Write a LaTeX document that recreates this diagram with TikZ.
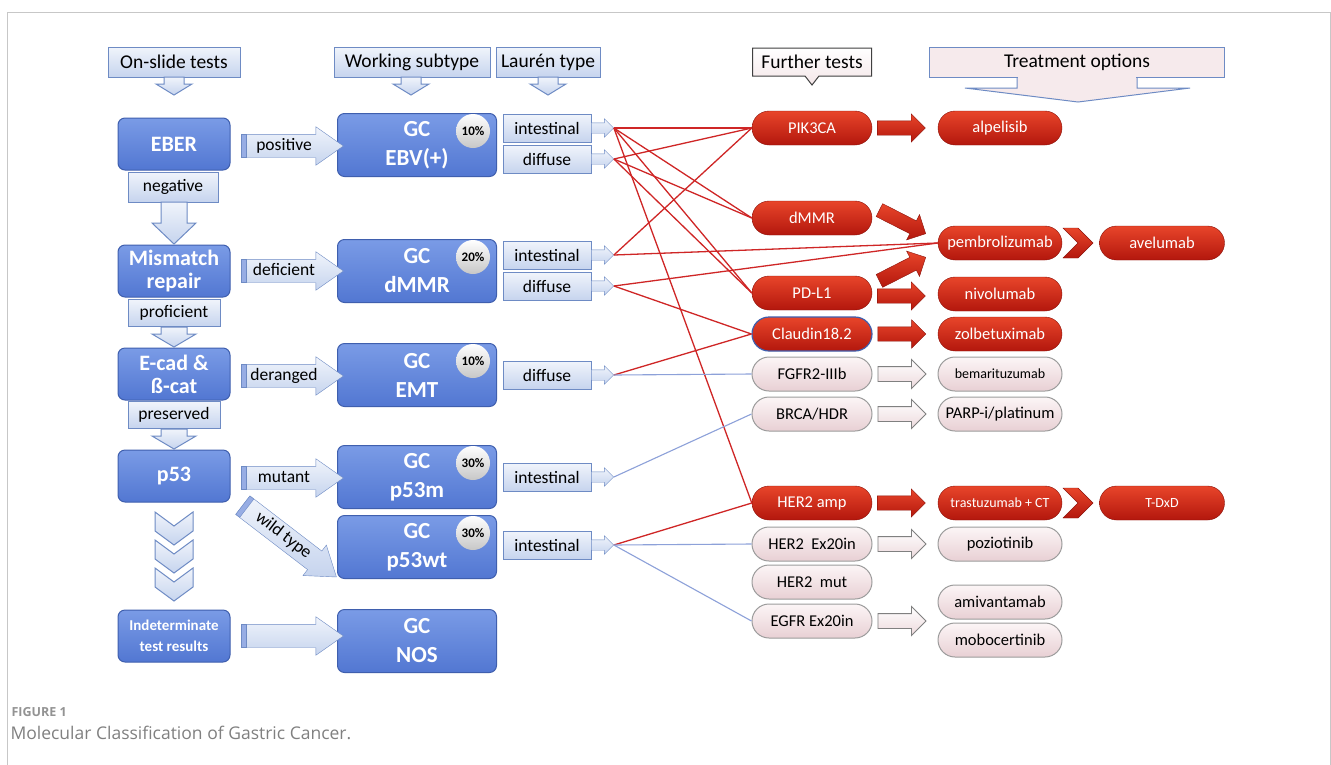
\documentclass[tikz,border=0pt]{standalone}
\usepackage{fontspec}
\setmainfont{Carlito}
\newfontfamily\capfont{Open Sans}
\usetikzlibrary{shapes.arrows,shapes.misc,shapes.symbols,shapes.callouts}

\definecolor{boxtop}{HTML}{7A9BE6}
\definecolor{boxbot}{HTML}{5277D2}
\definecolor{boxedge}{HTML}{3F5FAE}
\definecolor{lbtop}{HTML}{F0F4FB}
\definecolor{lbbot}{HTML}{C6D4EE}
\definecolor{lbedge}{HTML}{6E8BC4}
\definecolor{redtop}{HTML}{E8452A}
\definecolor{redbot}{HTML}{B3170D}
\definecolor{rededge}{HTML}{8C120A}
\definecolor{pinktop}{HTML}{FCF5F6}
\definecolor{pinkbot}{HTML}{E8D0D4}
\definecolor{pinkedge}{HTML}{9C9C9C}
\definecolor{redline}{HTML}{CF2626}
\definecolor{blueline}{HTML}{8DA1D9}
\definecolor{capgray}{HTML}{808080}

% down block arrow: (x,ytop,ybottom)(half shaft:half head:head length)
\def\dnblock(#1,#2,#3)(#4:#5:#6){\draw[lbshape] (#1-#4,#2) -- (#1+#4,#2) -- (#1+#4,#3-#6) -- (#1+#5,#3-#6) -- (#1,#3) -- (#1-#5,#3-#6) -- (#1-#4,#3-#6) -- cycle;}
% down chevron: (x,ytop)
\def\dnchev(#1,#2){\draw[lbshape] (#1-19,#2) -- (#1,#2+14) -- (#1+19,#2) -- (#1+19,#2+19) -- (#1,#2+33) -- (#1-19,#2+19) -- cycle;}

\tikzset{
  lbshape/.style={draw=lbedge, line width=1, top color=lbtop, bottom color=lbbot},
  testbox/.style={draw=boxedge, line width=1, rounded corners=7, top color=boxtop, bottom color=boxbot,
    text=white, align=center, inner sep=0pt, minimum width=112, minimum height=52,
    font=\bfseries\fontsize{22}{23}\selectfont},
  gcbox/.style={testbox, minimum width=159, minimum height=63, font=\bfseries\fontsize{23}{29}\selectfont},
  pct/.style={circle, inner sep=0pt, minimum size=34, top color=white, bottom color=black!22,
    font=\bfseries\fontsize{13}{13}\selectfont},
  hdr/.style={lbshape, inner sep=0pt, minimum height=30, font=\fontsize{19.5}{19.5}\selectfont},
  lbl/.style={lbshape, line width=0.8, inner sep=0pt, font=\fontsize{17.5}{17.5}\selectfont},
  lbarrow/.style={single arrow, draw=lbedge, top color=lbtop, bottom color=lbbot},
  sidearrow/.style={lbarrow, inner xsep=2, inner ysep=3.5, text height=12, text depth=4,
    single arrow head extend=7.5, single arrow tip angle=70, minimum height=102,
    font=\fontsize{17.5}{17.5}\selectfont},
  stripe/.style={rectangle, draw=lbedge, fill=boxbot!60, inner sep=0pt, minimum width=5, minimum height=23},
  tiparrow/.style={lbarrow, inner sep=5, single arrow head extend=4, minimum height=22},
  redpill/.style={rounded rectangle, draw=rededge, top color=redtop, bottom color=redbot, text=white,
    inner sep=0pt, minimum width=120, minimum height=34, font=\fontsize{16.5}{16.5}\selectfont},
  pinkpill/.style={rounded rectangle, draw=pinkedge, line width=1, top color=pinktop, bottom color=pinkbot,
    text=black, inner sep=0pt, minimum width=120, minimum height=34, font=\fontsize{16.5}{16.5}\selectfont},
  redarrow/.style={single arrow, draw=rededge, top color=redtop, bottom color=redbot, inner sep=7,
    single arrow head extend=7, minimum height=48},
  pinkarrow/.style={single arrow, draw=black!50, line width=0.9, top color=white, bottom color=pinkbot!80,
    inner sep=7, single arrow head extend=7, minimum height=48},
  redchev/.style={signal, signal to=east, signal from=west, draw=rededge, top color=redtop,
    bottom color=redbot, inner sep=0pt, minimum width=23, minimum height=30},
  redl/.style={draw=redline, line width=1.3},
  bluel/.style={draw=blueline, line width=1.1}
}

\begin{document}
\begin{tikzpicture}[x=1pt,y=-1pt]
%%%%% START %%%%%
\useasboundingbox (0,0) rectangle (1331,764);
\fill[white] (0,0) rectangle (1331,764);
\draw[black!22, line width=1] (7,780) -- (7,12) -- (1330,12) -- (1330,780);

% headers
\node[hdr, minimum width=132] (h-test) at (174,62) {On-slide tests};
\dnblock(174,77,95)(10:18:11)
\node[hdr, minimum width=156] (h-sub) at (412,62) {Working subtype};
\dnblock(411,77,95)(10:18:11)
\node[hdr, minimum width=104] (h-lau) at (548,62) {Laur\'en type};
\dnblock(548,77,95)(10:18:11)
\node[rectangle callout, draw=black!75, line width=1, top color=white, bottom color=pinktop!60!pinkbot,
  inner sep=0pt, minimum width=119, minimum height=28, callout absolute pointer={(812,85)},
  callout pointer width=14, font=\fontsize{19.5}{19.5}\selectfont] (h-fur) at (812,62) {Further tests};
\fill[pinktop!70!pinkbot] (1017,76) -- (1017,88) -- (965,88) -- (1078,102) -- (1190,88) -- (1137,88) -- (1137,76) -- cycle;
\draw[lbedge, line width=1] (1017,77) -- (1017,88) -- (965,88) -- (1078,102) -- (1190,88) -- (1137,88) -- (1137,77);
\node[draw=lbedge, line width=1, fill=pinktop!70!pinkbot, inner sep=0pt, minimum width=295, minimum height=30,
  font=\fontsize{19.5}{19.5}\selectfont] (h-trt) at (1077,62) {Treatment options};
\fill[pinktop!70!pinkbot] (1018,76) rectangle (1136,79);

% on-slide tests
\node[testbox] (eber) at (174,144) {EBER};
\node[lbl, minimum width=90, minimum height=30] (neg) at (173,187) {negative};
\dnblock(174,202,244)(13:22:21)
\node[testbox] (mmr) at (174,271) {Mismatch\\repair};
\node[lbl, minimum width=92, minimum height=27] (prof) at (174,313) {proficient};
\dnblock(174,327,347)(13:22:13)
\node[testbox] (ecad) at (174,374) {E-cad \&\\\ss-cat};
\node[lbl, minimum width=92, minimum height=27] (pres) at (174,415) {preserved};
\dnblock(174,429,449)(13:22:13)
\node[testbox] (p53) at (174,476) {p53};
\dnchev(174,512)
\dnchev(174,540)
\dnchev(174,568)
\node[testbox, font=\bfseries\fontsize{15}{21}\selectfont] (ind) at (174,636) {Indeterminate\\test results};

% working subtypes
\node[gcbox] (ebv) at (417,145) {GC\\EBV(+)};
\node[pct] at (473,131) {10\%};
\node[gcbox] (dmmr) at (417,271) {GC\\dMMR};
\node[pct] at (473,257) {20\%};
\node[gcbox] (emt) at (417,375) {GC\\EMT};
\node[pct] at (473,361) {10\%};
\node[gcbox] (p53m) at (417,477) {GC\\p53m};
\node[pct] at (473,463) {30\%};
\node[gcbox] (p53wt) at (417,547) {GC\\p53wt};
\node[pct] at (473,533) {30\%};
\node[gcbox] (nos) at (417,641) {GC\\NOS};

% test result arrows
\node[sidearrow] (a-pos) at (284,146) {positive};
\node[sidearrow] (a-def) at (284,271) {deficient};
\node[sidearrow] (a-der) at (284,376) {deranged};
\node[sidearrow] (a-mut) at (284,478) {mutant};
\node[sidearrow, rotate=-37.5, minimum height=118] (a-wt) at (283,536) {wild type};
\node[sidearrow] (a-ind) at (284,636) {};
\foreach \a in {a-pos,a-def,a-der,a-mut,a-wt,a-ind}
  \path (\a.tail) -- (\a.tip) node[pos=0, sloped, anchor=west, stripe] {};

% lauren types
\node[lbl, minimum width=88, minimum height=28] (ebv-i) at (547,128) {intestinal};
\node[lbl, minimum width=88, minimum height=28] (ebv-d) at (547,159) {diffuse};
\node[lbl, minimum width=88, minimum height=28] (dmmr-i) at (547,255) {intestinal};
\node[lbl, minimum width=88, minimum height=28] (dmmr-d) at (547,286) {diffuse};
\node[lbl, minimum width=88, minimum height=28] (emt-d) at (547,375) {diffuse};
\node[lbl, minimum width=88, minimum height=28] (p53m-i) at (547,477) {intestinal};
\node[lbl, minimum width=88, minimum height=28] (p53wt-i) at (547,545) {intestinal};
\foreach \l in {ebv-i,ebv-d,dmmr-i,dmmr-d,emt-d,p53m-i,p53wt-i}
  \node[tiparrow, anchor=tail] (\l-t) at (\l.east) {};

% further tests
\node[redpill] (pik) at (812,128) {PIK3CA};
\node[redpill] (mmrt) at (812,218) {dMMR};
\node[redpill] (pdl) at (812,293) {PD-L1};
\node[redpill, draw=boxedge, line width=1.2] (cld) at (812,334) {Claudin18.2};
\node[pinkpill] (fgfr) at (812,374) {FGFR2-IIIb};
\node[pinkpill] (brca) at (812,414) {BRCA/HDR};
\node[redpill] (her) at (812,503) {HER2 amp};
\node[pinkpill] (hex) at (812,544) {HER2\ \ Ex20in};
\node[pinkpill] (hmut) at (812,582) {HER2\ \ mut};
\node[pinkpill] (egfr) at (812,621) {EGFR Ex20in};

% treatment options
\node[redpill, minimum width=124] (alp) at (1000,128) {alpelisib};
\node[redpill, minimum width=124] (pem) at (1000,243) {pembrolizumab};
\node[redpill, minimum width=124] (niv) at (1000,294) {nivolumab};
\node[redpill, minimum width=124] (zol) at (1000,334) {zolbetuximab};
\node[pinkpill, minimum width=124, font=\fontsize{14}{14}\selectfont] (bem) at (1000,374) {bemarituzumab};
\node[pinkpill, minimum width=124] (parp) at (1000,414) {PARP-i/platinum};
\node[redpill, minimum width=124, font=\fontsize{14}{14}\selectfont] (tra) at (1000,503) {trastuzumab + CT};
\node[pinkpill, minimum width=124] (poz) at (1000,544) {poziotinib};
\node[pinkpill, minimum width=124] (ami) at (1000,602) {amivantamab};
\node[pinkpill, minimum width=124] (mob) at (1000,640) {mobocertinib};
\node[redpill, minimum width=125] (ave) at (1162,243) {avelumab};
\node[redpill, minimum width=125, font=\fontsize{14}{14}\selectfont] (tdx) at (1162,503) {T-DxD};

% arrows to treatment
\node[redarrow, anchor=tail] at ([xshift=5]pik.east) {};
\node[redarrow, rotate=-27, anchor=tail, minimum height=52] at ([xshift=7,yshift=8]mmrt.east) {};
\node[redarrow, rotate=27, anchor=tail, minimum height=52] at ([xshift=7,yshift=12]pdl.east) {};
\node[redarrow, anchor=tail] at ([xshift=5,yshift=-3]pdl.east) {};
\node[redarrow, anchor=tail] at ([xshift=5]cld.east) {};
\node[pinkarrow, anchor=tail] at ([xshift=5]fgfr.east) {};
\node[pinkarrow, anchor=tail] at ([xshift=5]brca.east) {};
\node[redarrow, anchor=tail] at ([xshift=5]her.east) {};
\node[pinkarrow, anchor=tail] at ([xshift=5]hex.east) {};
\node[pinkarrow, anchor=tail] at ([xshift=5]egfr.east) {};
\node[redchev] at (1078,243) {};
\node[redchev] at (1078,503) {};

% laurens to further tests
\draw[redl] (ebv-i-t.tip) -- (pik.west);
\draw[redl] (ebv-i-t.tip) -- (mmrt.west);
\draw[redl] (ebv-i-t.tip) -- (pdl.west);
\draw[redl] (ebv-i-t.tip) -- (her.west);
\draw[redl] (ebv-d-t.tip) -- (pik.west);
\draw[redl] (ebv-d-t.tip) -- (mmrt.west);
\draw[redl] (ebv-d-t.tip) -- (pdl.west);
\draw[redl] (dmmr-i-t.tip) -- (pik.west);
\draw[redl] (dmmr-i-t.tip) -- (pem.west);
\draw[redl] (dmmr-d-t.tip) -- (pem.west);
\draw[redl] (dmmr-d-t.tip) -- (cld.west);
\draw[redl] (emt-d-t.tip) -- (cld.west);
\draw[bluel] (emt-d-t.tip) -- (fgfr.west);
\draw[bluel] (p53m-i-t.tip) -- (brca.west);
\draw[redl] (p53wt-i-t.tip) -- (her.west);
\draw[bluel] (p53wt-i-t.tip) -- (hex.west);
\draw[bluel] (p53wt-i-t.tip) -- (egfr.west);

% caption
\node[anchor=base west, text=capgray!85, font=\capfont\bfseries\fontsize{12.5}{13}\selectfont] (fig) at (8,716) {FIGURE 1};
\node[anchor=base west, text=capgray, font=\capfont\fontsize{17.5}{18}\selectfont] (cap) at (7,739) {Molecular Classification of Gastric Cancer.};
%%%%% END %%%%%
\end{tikzpicture}
\end{document}
